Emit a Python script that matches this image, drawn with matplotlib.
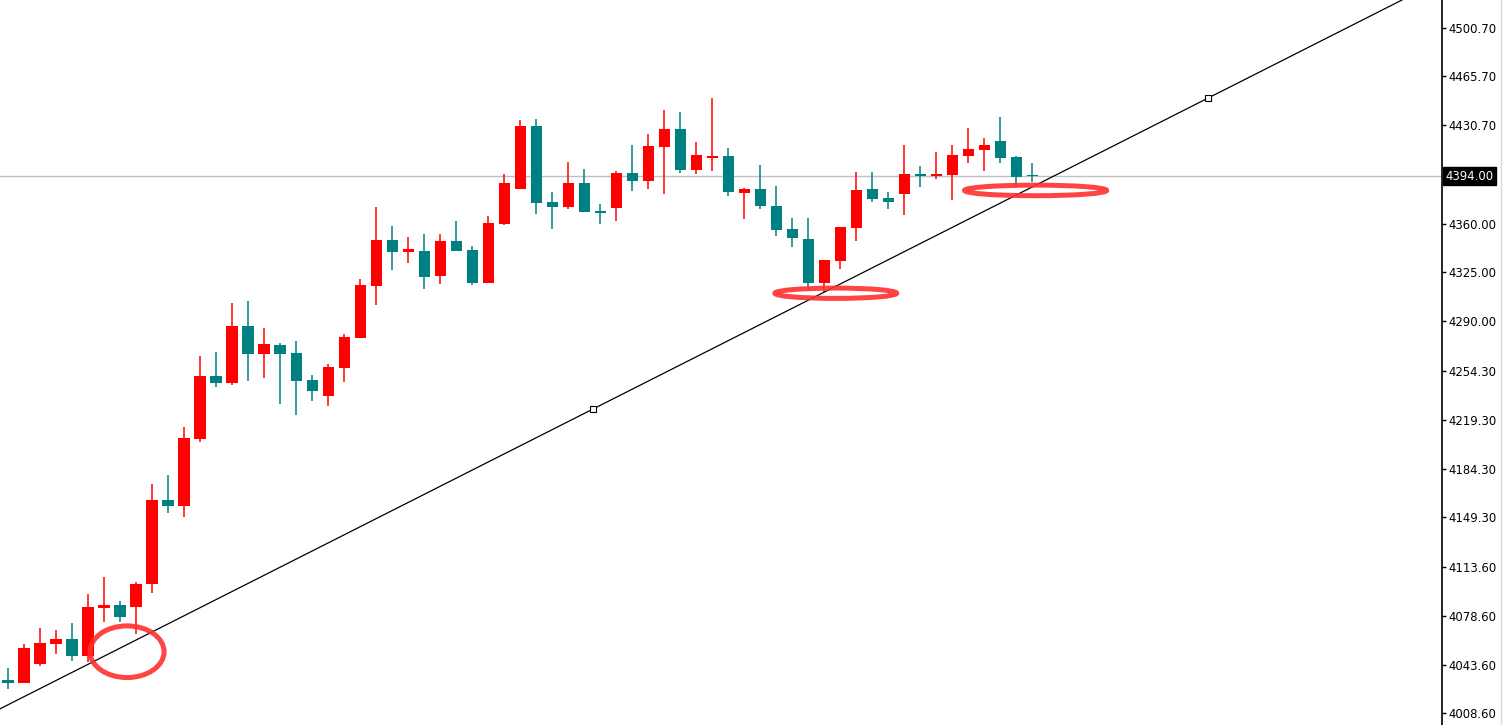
import matplotlib
matplotlib.use("Agg")
import matplotlib.pyplot as plt
from matplotlib.patches import Ellipse
from matplotlib.lines import Line2D
import numpy as np

# OHLC, one entry per bar
opens = [4032.5, 4030.6, 4044.2, 4058.6, 4061.9, 4049.9, 4084.4, 4086.3, 4085.1, 4101.6,
         4161.7, 4157.6, 4205.7, 4250.7, 4245.9, 4286.6, 4266.7, 4273.0, 4267.2, 4247.8,
         4236.6, 4256.7, 4278.2, 4315.3, 4348.3, 4339.7, 4340.4, 4322.5, 4347.6, 4341.1,
         4317.5, 4359.8, 4384.9, 4430.1, 4375.6, 4372.0, 4389.2, 4369.1, 4371.3, 4396.4,
         4390.9, 4415.1, 4428.0, 4398.6, 4407.2, 4408.6, 4382.1, 4384.9, 4372.7, 4356.2,
         4349.0, 4317.5, 4333.2, 4356.9, 4384.9, 4378.5, 4381.3, 4395.7, 4394.3, 4395.0,
         4408.6, 4412.9, 4419.4, 4407.9, 4395.0]
highs = [4040.9, 4058.3, 4069.8, 4068.4, 4073.4, 4094.2, 4106.4, 4089.2, 4102.8, 4173.2,
         4179.6, 4214.1, 4265.1, 4267.9, 4303.1, 4304.5, 4285.2, 4274.4, 4275.8, 4251.4,
         4259.3, 4280.9, 4320.3, 4372.0, 4358.4, 4350.5, 4352.6, 4352.6, 4362.0, 4344.0,
         4365.5, 4395.7, 4434.5, 4435.2, 4382.8, 4404.3, 4399.3, 4374.2, 4397.8, 4416.5,
         4424.4, 4441.6, 4440.2, 4418.7, 4450.2, 4414.4, 4385.6, 4402.2, 4387.1, 4364.1,
         4364.1, 4334.0, 4357.7, 4397.1, 4397.1, 4382.8, 4416.5, 4401.4, 4411.5, 4416.5,
         4428.7, 4421.5, 4436.6, 4408.6, 4403.6]
lows = [4026.3, 4030.3, 4042.6, 4051.4, 4046.4, 4045.4, 4074.1, 4074.1, 4065.7, 4095.2,
        4152.6, 4149.7, 4203.5, 4243.0, 4244.5, 4247.3, 4249.5, 4230.8, 4222.9, 4233.0,
        4229.4, 4246.6, 4278.0, 4301.7, 4326.8, 4331.8, 4313.1, 4316.7, 4340.4, 4316.0,
        4317.5, 4359.1, 4384.9, 4367.0, 4356.2, 4370.6, 4368.4, 4359.8, 4362.0, 4383.5,
        4384.9, 4381.3, 4396.4, 4395.7, 4397.8, 4379.9, 4363.4, 4370.6, 4351.2, 4343.3,
        4312.4, 4311.0, 4327.5, 4347.6, 4375.6, 4370.6, 4366.3, 4386.4, 4392.1, 4377.0,
        4403.6, 4397.8, 4403.6, 4386.4, 4390.0]
closes = [4030.3, 4055.5, 4059.3, 4061.9, 4049.9, 4084.9, 4086.3, 4077.9, 4101.4, 4161.7,
          4157.6, 4206.2, 4250.7, 4245.9, 4286.6, 4266.7, 4273.7, 4266.7, 4247.3, 4240.2,
          4257.2, 4278.7, 4316.0, 4348.3, 4339.7, 4341.9, 4321.8, 4347.6, 4340.4, 4317.5,
          4360.5, 4389.2, 4430.1, 4374.9, 4372.0, 4389.2, 4368.4, 4367.7, 4396.4, 4390.9,
          4415.8, 4428.0, 4398.6, 4409.3, 4408.6, 4382.8, 4384.9, 4372.7, 4355.5, 4349.8,
          4317.5, 4334.0, 4357.7, 4384.2, 4377.7, 4375.6, 4395.7, 4394.3, 4395.7, 4409.3,
          4413.6, 4416.5, 4407.2, 4393.5, 4394.0]

price_ticks = [4008.60, 4043.60, 4078.60, 4113.60, 4149.30, 4184.30, 4219.30, 4254.30,
               4290.00, 4325.00, 4360.00, 4430.70, 4465.70, 4500.70]
last_price = 4394.00

# trend line anchor points (bar index, price)
trend_pts = [(36.56, 4227.0), (75.0, 4450.2)]

# highlighted touches: (bar index, price, width in bars, height in price)
touch_marks = [(7.44, 4052.8, 4.63, 37.1),
               (51.73, 4310.1, 7.61, 7.4),
               (64.22, 4383.9, 8.88, 7.6)]

UP = "#FF0000"
DOWN = "#008080"

fig = plt.figure(figsize=(15.06, 7.25), dpi=100)
ax = fig.add_axes([0, 0, 1441.7 / 1506, 1])

o = np.array(opens)
h = np.array(highs)
l = np.array(lows)
c = np.array(closes)
x = np.arange(len(o))
cols = [UP if cc >= oo else DOWN for oo, cc in zip(o, c)]

ax.axhline(last_price, color="#C0C0C0", lw=1, zorder=1)

ax.vlines(x, l, h, colors=cols, lw=1.1, zorder=2)
body_lo = np.minimum(o, c)
body_h = np.maximum(np.abs(c - o), 1.2)
ax.bar(x, body_h, bottom=body_lo, width=0.69, color=cols, linewidth=0, zorder=3)

(x1, y1), (x2, y2) = trend_pts
ax.axline((x1, y1), (x2, y2), color="black", lw=0.9, zorder=4)
ax.plot([x1, x2], [y1, y2], ls="none", marker="s", ms=3.8, mfc="white",
        mec="black", mew=0.8, zorder=5)

for ex, ey, ew, eh in touch_marks:
    ax.add_patch(Ellipse((ex, ey), ew, eh, fill=False, edgecolor="#FF3030",
                         alpha=0.9, lw=3.6, zorder=6))

ax.set_xlim(-0.5, 89.6)
ax.set_ylim(4000.2, 4520.58)

ax.yaxis.tick_right()
ax.set_yticks(price_ticks)
ax.set_yticklabels([f"{t:.2f}" for t in price_ticks])
ax.tick_params(axis="y", direction="out", length=3, width=1, pad=1.5,
               labelsize=8.4, colors="black")
ax.set_xticks([])
for side in ["left", "top", "bottom"]:
    ax.spines[side].set_visible(False)
ax.spines["right"].set_linewidth(1.2)

ax.annotate(f"{last_price:.2f}", xy=(1, last_price), xycoords=("axes fraction", "data"),
            xytext=(2.6, 0), textcoords="offset points", va="center", ha="left",
            fontsize=8.4, color="white",
            bbox=dict(boxstyle="square,pad=0.22", fc="black", ec="black"))

fig.add_artist(Line2D([1500.5 / 1506] * 2, [0, 1], color="#D8D8D8", lw=1))

fig.savefig("out.png", dpi=100)
